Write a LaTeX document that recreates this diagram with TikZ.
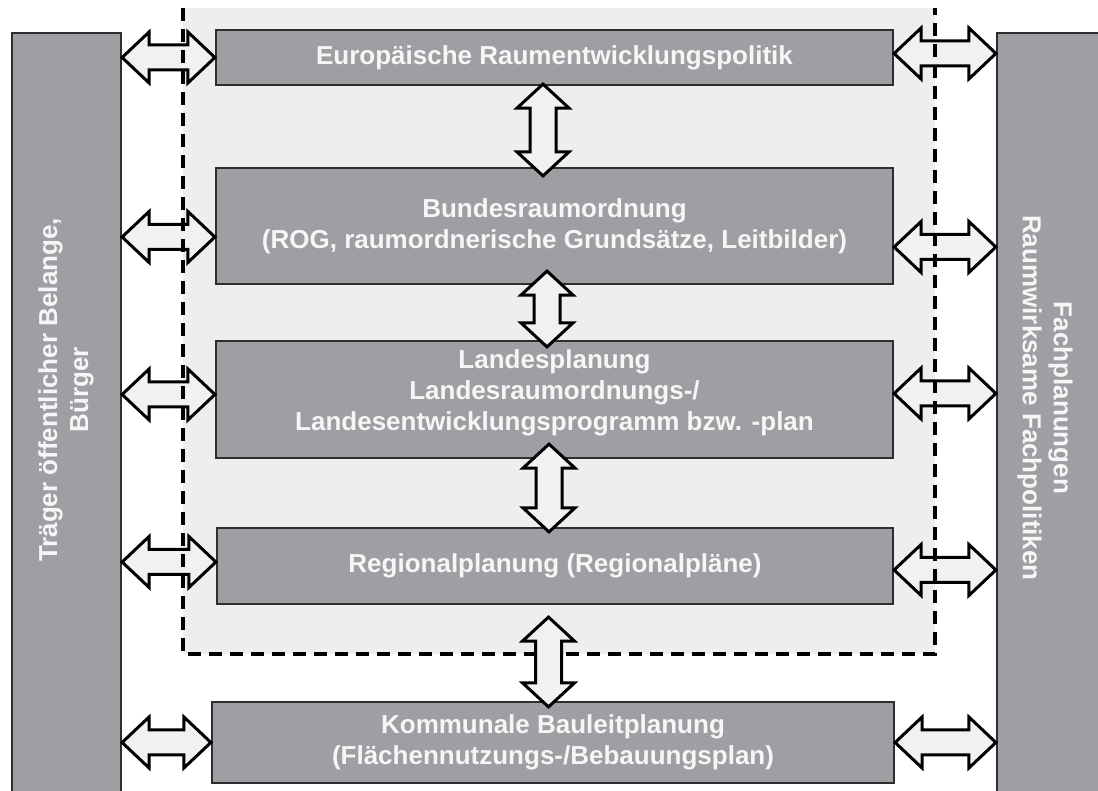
\documentclass[tikz,border=0pt]{standalone}
\usepackage{fontspec}
\setmainfont{Liberation Sans}
\usetikzlibrary{calc}
\definecolor{boxgray}{HTML}{9E9FA3}
\definecolor{framegray}{HTML}{EEEEEE}
\definecolor{arrowgray}{HTML}{F1F1F1}
\definecolor{edgegray}{HTML}{2E2E2E}
\definecolor{textwhite}{HTML}{F6F6F6}
\tikzstyle{level} = [draw=edgegray, line width=2.2pt, fill=boxgray, text=textwhite,
	font=\fontsize{26}{31}\selectfont\bfseries, align=center, inner sep=0pt]
\tikzstyle{side} = [draw=edgegray, line width=2.2pt, fill=boxgray, inner sep=0pt]
\tikzstyle{sidetext} = [text=textwhite, font=\fontsize{26}{31}\selectfont\bfseries, align=center]
\tikzstyle{dblarrow} = [draw=black, line width=3pt, fill=arrowgray, line join=miter]
\tikzstyle{frameline} = [line width=3.6pt, dash pattern=on 13pt off 8pt]
% horizontal double arrow, #1 = y offset, #2 left tip, #3 right tip
\newcommand\HArrow[3][0]{%
	\draw[dblarrow] let \p1=#2, \p2=#3 in
		(\x1,\y1+#1) -- (\x1+27,\y1+#1+25.5) -- (\x1+27,\y1+#1+12.5)
		-- (\x2-27,\y1+#1+12.5) -- (\x2-27,\y1+#1+25.5) -- (\x2,\y1+#1)
		-- (\x2-27,\y1+#1-25.5) -- (\x2-27,\y1+#1-12.5)
		-- (\x1+27,\y1+#1-12.5) -- (\x1+27,\y1+#1-25.5) -- cycle;
	}
% vertical double arrow, #1 top tip, #2 bottom tip
\newcommand\VArrow[2]{%
	\draw[dblarrow] let \p1=#1, \p2=#2 in
		(\x1,\y1) -- (\x1+26,\y1-24) -- (\x1+13,\y1-24)
		-- (\x1+13,\y2+24) -- (\x1+26,\y2+24) -- (\x1,\y2)
		-- (\x1-26,\y2+24) -- (\x1-13,\y2+24)
		-- (\x1-13,\y1-24) -- (\x1-26,\y1-24) -- cycle;
	}

\begin{document}
\begin{tikzpicture}[x=1pt, y=1pt]
\useasboundingbox[fill=white] (0,0) rectangle (1098,791);

% shaded area of the spatial planning levels
\fill[framegray] (183,137) rectangle (935,783);

% side bars
\node[side, minimum width=109, minimum height=768] (lbar) at (66.5,374) {};
\node[side, minimum width=111, minimum height=768] (rbar) at (1052.5,374) {};
\node[sidetext, rotate=90] (ltext) at (66,401) {Träger öffentlicher Belange,\\Bürger};
\node[sidetext, rotate=-90] (rtext) at (1045,393) {Fachplanungen\\Raumwirksame Fachpolitiken};

% levels
\node[level, minimum width=677, minimum height=55] (eu) at (554.5,733.5)
	{Europäische Raumentwicklungspolitik};
\node[level, minimum width=677, minimum height=116] (bund) at (554.5,565)
	{Bundesraumordnung\\(ROG, raumordnerische Grundsätze, Leitbilder)};
\node[level, minimum width=677, minimum height=117, text depth=18pt] (land) at (554.5,391.5)
	{Landesplanung\\Landesraumordnungs-/\\Landesentwicklungsprogramm bzw. -plan};
\node[level, minimum width=676, minimum height=76] (reg) at (555,225)
	{Regionalplanung (Regionalpläne)};
\node[level, minimum width=682, minimum height=81] (komm) at (553,48.5)
	{Kommunale Bauleitplanung\\(Flächennutzungs-/Bebauungsplan)};

% left arrows
\HArrow{(lbar.east |- eu.west)}{(eu.west)}
\HArrow[-11]{(lbar.east |- bund.west)}{(bund.west)}
\HArrow[5]{(lbar.east |- land.west)}{(land.west)}
\HArrow[4]{(lbar.east |- reg.west)}{(reg.west)}
\HArrow{(lbar.east |- komm.west)}{(komm.west)}

% right arrows
\HArrow[4]{(eu.east)}{(rbar.west |- eu.east)}
\HArrow[-21]{(bund.east)}{(rbar.west |- bund.east)}
\HArrow[6]{(land.east)}{(rbar.west |- land.east)}
\HArrow[-4]{(reg.east)}{(rbar.west |- reg.east)}
\HArrow{(komm.east)}{(rbar.west |- komm.east)}

% arrows between the levels
\VArrow{($(eu.south)+(-11.5,2)$)}{($(bund.north)+(-11.5,-9)$)} % eu-bund
\VArrow{($(bund.south)+(-7.5,14)$)}{($(land.north)+(-7.5,-7)$)} % bund-land
\VArrow{($(land.south)+(-5.5,15)$)}{($(reg.north)+(-5.5,-5)$)} % land-reg

% dashed border
\draw[frameline] (183,783) -- (183,137) -- (935,137) -- (935,783);

\VArrow{($(reg.south)+(-6.5,-12)$)}{($(komm.north)+(-6.5,-6)$)} % reg-komm

\end{tikzpicture}
\end{document}
